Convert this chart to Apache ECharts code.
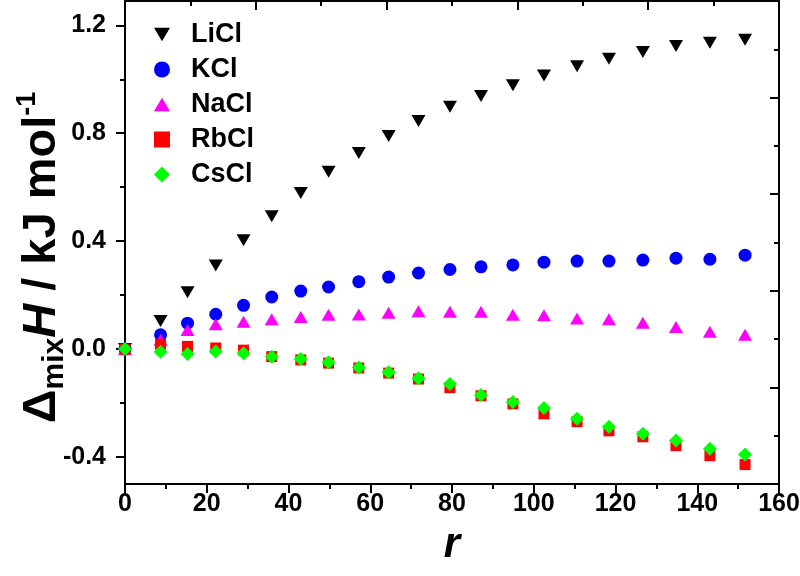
<!DOCTYPE html>
<html>
<head>
<meta charset="utf-8">
<script src="https://cdn.jsdelivr.net/npm/echarts@6/dist/echarts.min.js"></script>
<style>
html,body{margin:0;padding:0;background:#fff;}
#chart{width:800px;height:576px;}
</style>
</head>
<body>
<div id="chart"></div>
<script>
// ---- data ----
const rValues = [0, 8.7, 15.3, 22.2, 29.0, 35.9, 43.0, 49.8, 57.2, 64.5, 71.8, 79.5, 87.1, 94.9, 102.5, 110.6, 118.4, 126.7, 134.8, 143.1, 151.7];
const LiCl = [0, 0.104, 0.211, 0.310, 0.403, 0.492, 0.578, 0.657, 0.727, 0.790, 0.845, 0.898, 0.938, 0.978, 1.014, 1.048, 1.076, 1.101, 1.123, 1.135, 1.146];
const KCl  = [0, 0.053, 0.096, 0.129, 0.162, 0.193, 0.215, 0.230, 0.250, 0.267, 0.282, 0.295, 0.305, 0.312, 0.322, 0.326, 0.326, 0.330, 0.337, 0.333, 0.348];
const NaCl = [0, 0.035, 0.071, 0.092, 0.101, 0.111, 0.119, 0.127, 0.128, 0.135, 0.140, 0.138, 0.138, 0.127, 0.125, 0.113, 0.111, 0.098, 0.082, 0.064, 0.053];
const RbCl = [0, 0.018, 0.010, 0.004, -0.004, -0.028, -0.040, -0.052, -0.070, -0.089, -0.111, -0.143, -0.173, -0.203, -0.240, -0.269, -0.303, -0.325, -0.358, -0.395, -0.428];
const CsCl = [0, -0.010, -0.018, -0.009, -0.015, -0.028, -0.037, -0.049, -0.068, -0.086, -0.108, -0.129, -0.170, -0.196, -0.218, -0.258, -0.288, -0.314, -0.339, -0.369, -0.391];
const seriesNames = ['LiCl', 'KCl', 'NaCl', 'RbCl', 'CsCl'];
const yMajorTicks = [-0.4, 0, 0.4, 0.8, 1.2];
const yMinorTicks = [-0.2, 0.2, 0.6, 1.0];

const pair = arr => rValues.map((r, i) => [r, arr[i]]);
const tickFont = "'Liberation Sans', Arial, sans-serif";
const mainFont = "'Liberation Sans', Arial, sans-serif";
const black = '#000';
const lineS = {color: black, width: 2};
const downTriangle = 'path://M0,0 L14,0 L7,12 Z';
const upTriangle = 'path://M7,0 L14,12 L0,12 Z';

const chart = echarts.init(document.getElementById('chart'), null, {renderer: 'canvas'});
chart.setOption({
  animation: false,
  backgroundColor: '#fff',
  grid: {left: 125, right: 21, top: 1, bottom: 92, containLabel: false, outerBoundsMode: 'none'},
  legend: {
    orient: 'vertical', left: 149, top: 16, itemGap: 8,
    itemWidth: 16, itemHeight: 16,
    textStyle: {fontFamily: mainFont, fontWeight: 'bold', fontSize: 27, color: black, padding: [0, 0, 0, 16]},
    data: seriesNames
  },
  xAxis: [
    {
      type: 'value', position: 'bottom', min: 0, max: 160, interval: 20,
      axisLine: {show: true, onZero: false, lineStyle: lineS},
      axisTick: {show: true, inside: false, length: 9, lineStyle: lineS},
      minorTick: {show: true, splitNumber: 2, length: 5, lineStyle: lineS},
      splitLine: {show: false}, minorSplitLine: {show: false},
      axisLabel: {fontFamily: tickFont, fontWeight: 'bold', fontSize: 25, color: black, margin: 8},
      name: 'r', nameLocation: 'middle', nameGap: 40,
      nameTextStyle: {fontFamily: mainFont, fontWeight: 'bold', fontStyle: 'italic', fontSize: 42, color: black}
    },
    {
      type: 'value', position: 'top', min: 0, max: 10, interval: 2,
      axisLine: {show: true, onZero: false, lineStyle: lineS},
      axisTick: {show: true, inside: true, length: 9, lineStyle: lineS},
      minorTick: {show: true, splitNumber: 2, length: 5, lineStyle: lineS},
      splitLine: {show: false}, axisLabel: {show: false}
    }
  ],
  yAxis: [
    {
      type: 'value', position: 'left', min: -0.5, max: 1.29,
      axisLine: {show: true, onZero: false, lineStyle: lineS},
      axisTick: {show: true, inside: false, length: 9, lineStyle: lineS, customValues: yMajorTicks},
      splitLine: {show: false},
      axisLabel: {customValues: yMajorTicks, formatter: v => v.toFixed(1),
        fontFamily: tickFont, fontWeight: 'bold', fontSize: 25, color: black, margin: 19},
      name: '{d|Δ}{s|mix}{h|H}{n| / kJ mol}{p|-1}',
      nameLocation: 'middle', nameGap: 55, nameRotate: 90, nameMoveOverlap: false,
      nameTextStyle: {
        color: black,
        padding: [0, 30, 0, 0],
        rich: {
          d: {fontFamily: mainFont, fontWeight: 'bold', fontSize: 47, lineHeight: 56, color: black},
          s: {fontFamily: mainFont, fontWeight: 'bold', fontSize: 30, lineHeight: 30, verticalAlign: 'bottom', color: black},
          h: {fontFamily: mainFont, fontWeight: 'bold', fontStyle: 'italic', fontSize: 47, lineHeight: 56, color: black},
          n: {fontFamily: mainFont, fontWeight: 'bold', fontSize: 47, lineHeight: 56, color: black},
          p: {fontFamily: mainFont, fontWeight: 'bold', fontSize: 27, lineHeight: 27, verticalAlign: 'top', color: black}
        }
      }
    },
    {
      type: 'value', position: 'left', min: -0.5, max: 1.29,
      axisLine: {show: false},
      axisTick: {show: true, inside: false, length: 5, lineStyle: lineS, customValues: yMinorTicks},
      axisLabel: {show: false}, splitLine: {show: false}
    },
    {
      type: 'value', position: 'right', min: 0, max: 10, interval: 2,
      axisLine: {show: true, onZero: false, lineStyle: lineS},
      axisTick: {show: true, inside: true, length: 9, lineStyle: lineS},
      minorTick: {show: true, splitNumber: 2, length: 5, lineStyle: lineS},
      axisLabel: {show: false}, splitLine: {show: false}
    }
  ],
  series: [
    {name: 'LiCl', type: 'scatter', data: pair(LiCl), symbol: downTriangle, symbolSize: [14, 12], itemStyle: {color: '#000000', opacity: 1}},
    {name: 'KCl', type: 'scatter', data: pair(KCl), symbol: 'circle', symbolSize: 13, itemStyle: {color: '#0000ff', opacity: 1}},
    {name: 'NaCl', type: 'scatter', data: pair(NaCl), symbol: upTriangle, symbolSize: [14, 12], itemStyle: {color: '#ff00ff', opacity: 1}},
    {name: 'RbCl', type: 'scatter', data: pair(RbCl), symbol: 'rect', symbolSize: 11, itemStyle: {color: '#ff0000', opacity: 1}},
    {name: 'CsCl', type: 'scatter', data: pair(CsCl), symbol: 'diamond', symbolSize: 14, itemStyle: {color: '#00ff00', opacity: 1}}
  ]
});
</script>
</body>
</html>
